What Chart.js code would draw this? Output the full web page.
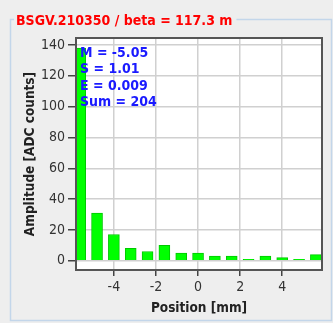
<!DOCTYPE html>
<html>
<head>
<meta charset="utf-8">
<script src="https://cdn.jsdelivr.net/npm/chart.js@4/dist/chart.umd.min.js"></script>
<style>
  html, body { margin: 0; padding: 0; background: #eeeeee; }
  #wrap { position: relative; width: 333px; height: 323px; }
</style>
</head>
<body>
<div id="wrap"><canvas id="profile" width="333" height="323"></canvas></div>
<script>
// wire positions [mm] and amplitudes [ADC counts]
const positions = [-5.6, -4.8, -4.0, -3.2, -2.4, -1.6, -0.8, 0, 0.8, 1.6, 2.4, 3.2, 4.0, 4.8, 5.6];
const amplitudes = [138, 31, 17, 8, 6, 10, 5, 5, 3, 3, 1, 3, 2, 1, 4];

const xTicks = [-4, -2, 0, 2, 4];
const yTicks = [0, 20, 40, 60, 80, 100, 120, 140];

const monitorName = 'BSGV.210350';
const betaValue = '117.3 m';
const statLines = ['M = -5.05', 'S = 1.01', 'E = 0.009', 'Sum = 204'];

const FONT = '"DejaVu Sans Condensed", "DejaVu Sans", sans-serif';

// panel background, titled border, plot frame and fit statistics
const panelPlugin = {
    id: 'panel',
    beforeDraw(chart) {
        const ctx = chart.ctx;
        ctx.save();
        ctx.fillStyle = '#eeeeee';
        ctx.fillRect(0, 0, chart.width, chart.height);
        ctx.strokeStyle = '#c3d6ea';
        ctx.lineWidth = 1.5;
        ctx.strokeRect(10.5, 19.5, 321, 301);

        const title = monitorName + ' / beta = ' + betaValue;
        ctx.font = 'bold 14px ' + FONT;
        const w = ctx.measureText(title).width;
        ctx.fillStyle = '#eeeeee';
        ctx.fillRect(14, 10, w + 6, 18);
        ctx.fillStyle = '#ff0000';
        ctx.textBaseline = 'alphabetic';
        ctx.fillText(title, 16, 25);

        const a = chart.chartArea;
        ctx.fillStyle = '#ffffff';
        ctx.fillRect(a.left, a.top, a.right - a.left, a.bottom - a.top);
        ctx.restore();
    },
    afterDraw(chart) {
        const ctx = chart.ctx;
        const a = chart.chartArea;
        ctx.save();
        ctx.strokeStyle = '#555555';
        ctx.lineWidth = 2;
        ctx.strokeRect(a.left, a.top, a.right - a.left, a.bottom - a.top);

        ctx.font = 'bold 14px ' + FONT;
        ctx.fillStyle = '#1a1aff';
        ctx.textBaseline = 'middle';
        statLines.forEach((line, i) => {
            ctx.fillText(line, a.left + 4, a.top + 15 + i * 16.5);
        });
        ctx.restore();
    }
};

const ctx = document.getElementById('profile').getContext('2d');
const chart = new Chart(ctx, {
    type: 'bar',
    data: {
        datasets: [{
            data: positions.map((p, i) => ({ x: p, y: amplitudes[i] })),
            backgroundColor: '#00ff00',
            borderColor: '#00c800',
            borderWidth: 1,
            barThickness: 11
        }]
    },
    options: {
        responsive: false,
        animation: false,
        layout: { padding: { top: 38, right: 11, left: 0, bottom: 0 } },
        plugins: {
            legend: { display: false },
            tooltip: { enabled: false }
        },
        scales: {
            x: {
                type: 'linear',
                min: -5.8,
                max: 5.89,
                offset: false,
                afterFit: scale => { scale.height = 53; },
                afterBuildTicks: scale => { scale.ticks = xTicks.map(v => ({ value: v })); },
                grid: { offset: false, color: '#d0d0d0', lineWidth: 1.5, tickColor: '#444444', tickLength: 6 },
                border: { display: false },
                ticks: {
                    padding: 3,
                    color: '#333333',
                    font: { family: FONT, size: 14 },
                    maxRotation: 0
                },
                title: {
                    display: true,
                    text: 'Position [mm]',
                    color: '#222222',
                    font: { family: FONT, size: 13.5, weight: 'bold' },
                    padding: { top: 0, bottom: 6 }
                }
            },
            y: {
                min: -6,
                max: 144.5,
                afterFit: scale => { scale.width = 76; },
                afterBuildTicks: scale => { scale.ticks = yTicks.map(v => ({ value: v })); },
                grid: { color: '#d0d0d0', lineWidth: 1.5, tickColor: '#444444', tickLength: 8 },
                border: { display: false },
                ticks: {
                    padding: 3,
                    color: '#333333',
                    font: { family: FONT, size: 14 }
                },
                title: {
                    display: true,
                    text: 'Amplitude [ADC counts]',
                    color: '#222222',
                    font: { family: FONT, size: 13.5, weight: 'bold' },
                    padding: { top: 22, bottom: 0 }
                }
            }
        }
    },
    plugins: [panelPlugin]
});
</script>
</body>
</html>
